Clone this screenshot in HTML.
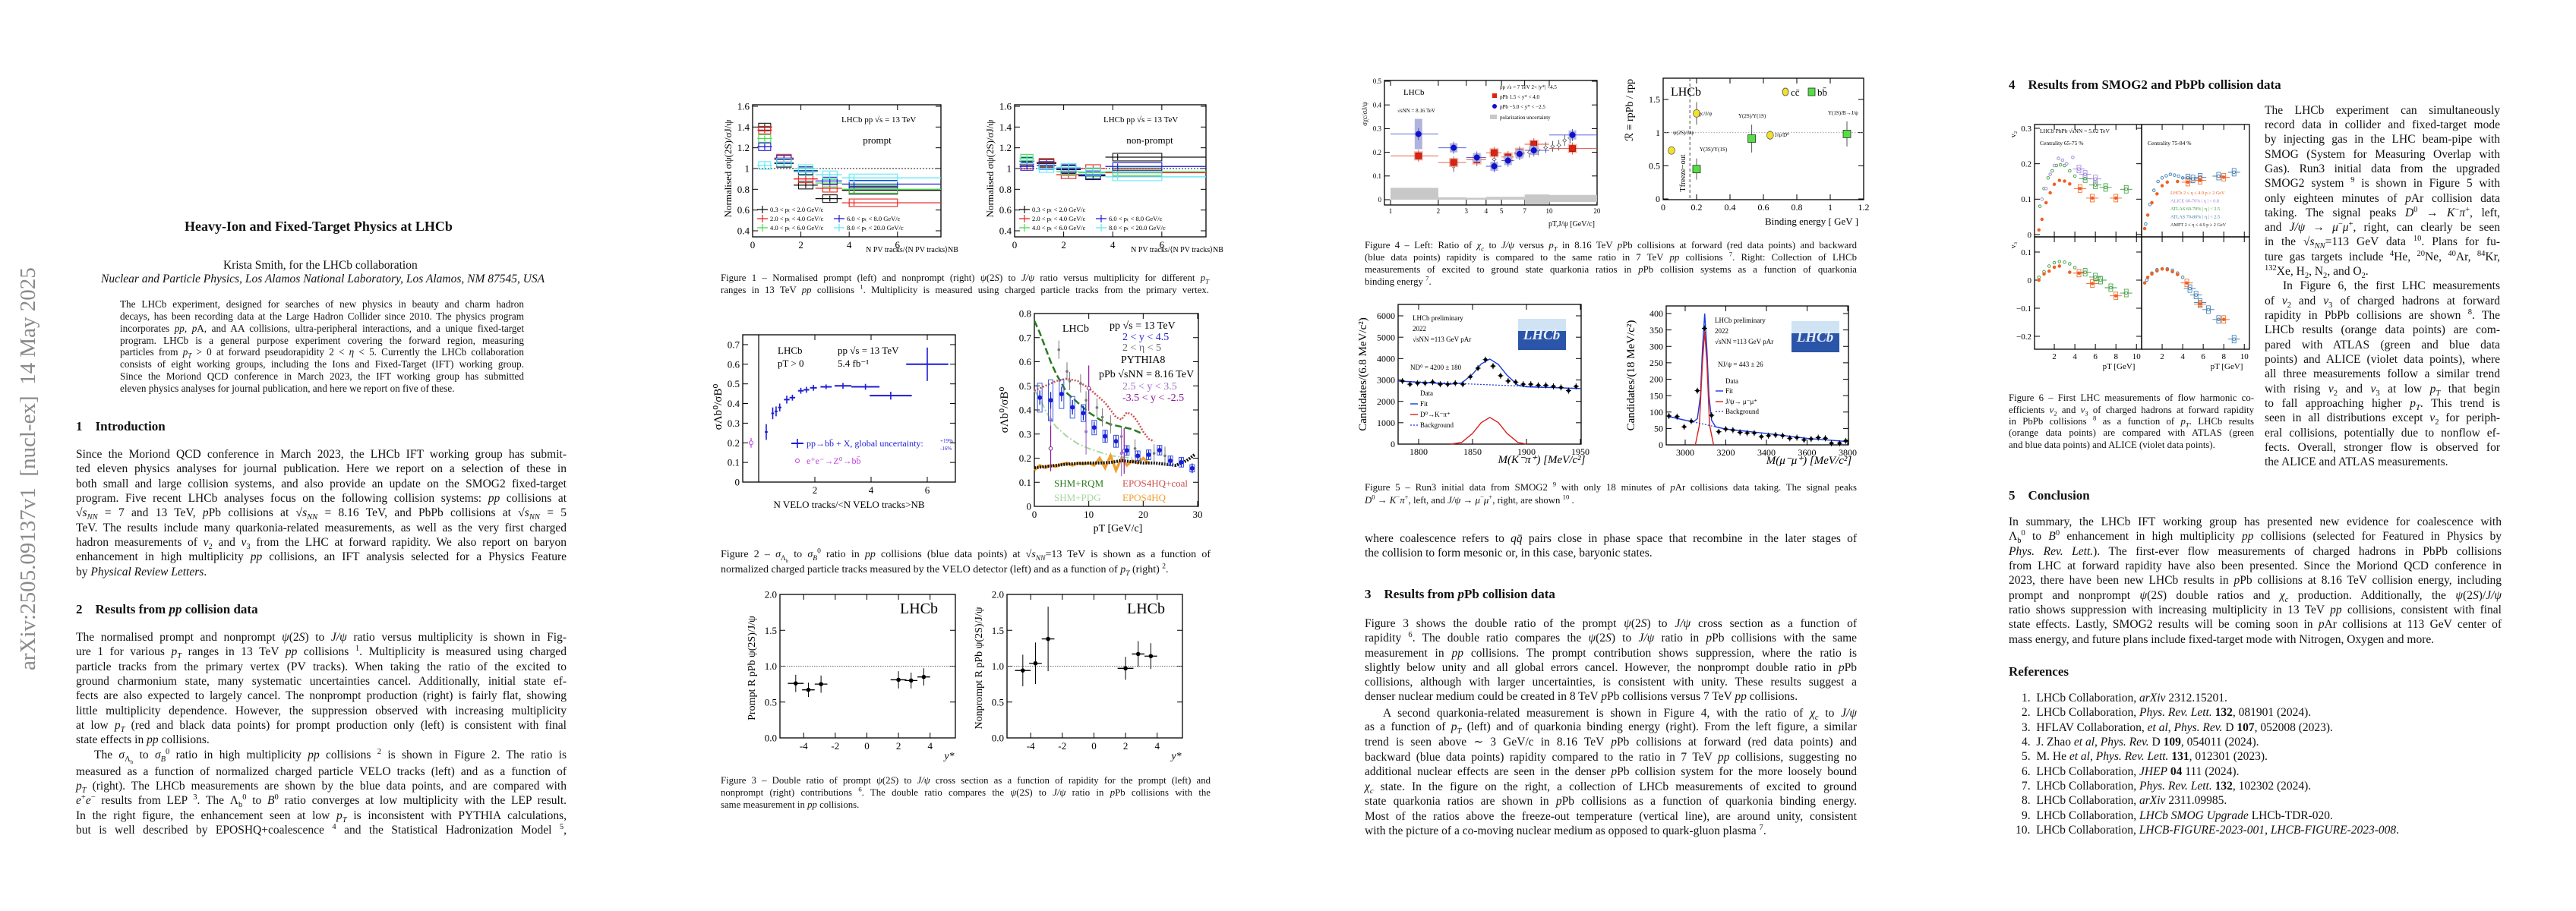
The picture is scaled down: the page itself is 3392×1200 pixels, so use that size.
<!DOCTYPE html>
<html><head><meta charset="utf-8">
<style>
html,body{margin:0;padding:0;background:#fff;}
body{width:3392px;height:1200px;position:relative;overflow:hidden;font-family:"Liberation Serif","DejaVu Serif",serif;color:#111;}
.t{position:absolute;white-space:nowrap;line-height:19px;height:19px;font-size:15.5px;}
.j{position:absolute;line-height:19px;height:19px;font-size:15.5px;text-align:justify;text-align-last:justify;white-space:normal;overflow:visible;}
.a{font-size:13.2px;line-height:16px;height:16px;}
.c{font-size:12.8px;line-height:16px;height:16px;}
.h{font-weight:bold;font-size:17px;}
sub,sup{font-size:68%;line-height:0;}
#figs{position:absolute;left:0;top:0;}
#stamp{position:absolute;left:-223px;top:607px;width:520px;height:32px;line-height:32px;font-size:29px;color:#8a8a8a;text-align:center;transform:rotate(-90deg);white-space:nowrap;}
</style></head>
<body>
<div id="stamp">arXiv:2505.09137v1&nbsp; [nucl-ex]&nbsp; 14 May 2025</div>

<!-- PAGE 1 -->
<div class="t" style="left:243px;top:289px;font-size:18px;font-weight:bold;">Heavy-Ion and Fixed-Target Physics at LHCb</div>
<div class="t" style="left:294px;top:340px;">Krista Smith, for the LHCb collaboration</div>
<div class="t" style="left:133px;top:358px;font-style:italic;">Nuclear and Particle Physics, Los Alamos National Laboratory, Los Alamos, NM 87545, USA</div>
<div>
<div class="j a" style="left:158px;top:393px;width:532px;">The LHCb experiment, designed for searches of new physics in beauty and charm hadron</div>
<div class="j a" style="left:158px;top:409px;width:532px;">decays, has been recording data at the Large Hadron Collider since 2010. The physics program</div>
<div class="j a" style="left:158px;top:425px;width:532px;">incorporates <i>pp</i>, <i>p</i>A, and AA collisions, ultra-peripheral interactions, and a unique fixed-target</div>
<div class="j a" style="left:158px;top:441px;width:532px;">program. LHCb is a general purpose experiment covering the forward region, measuring</div>
<div class="j a" style="left:158px;top:456px;width:532px;">particles from <i>p<sub>T</sub></i> &gt; 0 at forward pseudorapidity 2 &lt; <i>η</i> &lt; 5. Currently the LHCb collaboration</div>
<div class="j a" style="left:158px;top:472px;width:532px;">consists of eight working groups, including the Ions and Fixed-Target (IFT) working group.</div>
<div class="j a" style="left:158px;top:488px;width:532px;">Since the Moriond QCD conference in March 2023, the IFT working group has submitted</div>
<div class="t a" style="left:158px;top:504px;">eleven physics analyses for journal publication, and here we report on five of these.</div>
</div>
<div class="t h" style="left:100px;top:552px;">1&nbsp;&nbsp;&nbsp;&nbsp;Introduction</div>
<div>
<div class="j" style="left:100px;top:589px;width:646px;">Since the Moriond QCD conference in March 2023, the LHCb IFT working group has submit-</div>
<div class="j" style="left:100px;top:608px;width:646px;">ted eleven physics analyses for journal publication. Here we report on a selection of these in</div>
<div class="j" style="left:100px;top:628px;width:646px;">both small and large collision systems, and also provide an update on the SMOG2 fixed-target</div>
<div class="j" style="left:100px;top:647px;width:646px;">program. Five recent LHCb analyses focus on the following collision systems: <i>pp</i> collisions at</div>
<div class="j" style="left:100px;top:666px;width:646px;">√<i>s<sub>NN</sub></i> = 7 and 13 TeV, <i>p</i>Pb collisions at √<i>s<sub>NN</sub></i> = 8.16 TeV, and PbPb collisions at √<i>s<sub>NN</sub></i> = 5</div>
<div class="j" style="left:100px;top:686px;width:646px;">TeV. The results include many quarkonia-related measurements, as well as the very first charged</div>
<div class="j" style="left:100px;top:705px;width:646px;">hadron measurements of <i>v</i><sub>2</sub> and <i>v</i><sub>3</sub> from the LHC at forward rapidity. We also report on baryon</div>
<div class="j" style="left:100px;top:724px;width:646px;">enhancement in high multiplicity <i>pp</i> collisions, an IFT analysis selected for a Physics Feature</div>
<div class="t" style="left:100px;top:744px;">by <i>Physical Review Letters</i>.</div>
</div>
<div class="t h" style="left:100px;top:793px;">2&nbsp;&nbsp;&nbsp;&nbsp;Results from <i>pp</i> collision data</div>
<div>
<div class="j" style="left:100px;top:830px;width:646px;">The normalised prompt and nonprompt <i>ψ</i>(2<i>S</i>) to <i>J/ψ</i> ratio versus multiplicity is shown in Fig-</div>
<div class="j" style="left:100px;top:849px;width:646px;">ure 1 for various <i>p<sub>T</sub></i> ranges in 13 TeV <i>pp</i> collisions <sup>1</sup>. Multiplicity is measured using charged</div>
<div class="j" style="left:100px;top:869px;width:646px;">particle tracks from the primary vertex (PV tracks). When taking the ratio of the excited to</div>
<div class="j" style="left:100px;top:888px;width:646px;">ground charmonium state, many systematic uncertainties cancel. Additionally, initial state ef-</div>
<div class="j" style="left:100px;top:907px;width:646px;">fects are also expected to largely cancel. The nonprompt production (right) is fairly flat, showing</div>
<div class="j" style="left:100px;top:927px;width:646px;">little multiplicity dependence. However, the suppression observed with increasing multiplicity</div>
<div class="j" style="left:100px;top:946px;width:646px;">at low <i>p<sub>T</sub></i> (red and black data points) for prompt production only (left) is consistent with final</div>
<div class="t" style="left:100px;top:965px;">state effects in <i>pp</i> collisions.</div>
<div class="j" style="left:124px;top:985px;width:622px;">The <i>σ</i><sub>Λ<sub>b</sub></sub> to <i>σ<sub>B</sub></i><sup>0</sup> ratio in high multiplicity <i>pp</i> collisions <sup>2</sup> is shown in Figure 2. The ratio is</div>
<div class="j" style="left:100px;top:1007px;width:646px;">measured as a function of normalized charged particle VELO tracks (left) and as a function of</div>
<div class="j" style="left:100px;top:1026px;width:646px;"><i>p<sub>T</sub></i> (right). The LHCb measurements are shown by the blue data points, and are compared with</div>
<div class="j" style="left:100px;top:1045px;width:646px;"><i>e</i><sup>+</sup><i>e</i><sup>−</sup> results from LEP <sup>3</sup>. The Λ<sub>b</sub><sup>0</sup> to <i>B</i><sup>0</sup> ratio converges at low multiplicity with the LEP result.</div>
<div class="j" style="left:100px;top:1065px;width:646px;">In the right figure, the enhancement seen at low <i>p<sub>T</sub></i> is inconsistent with PYTHIA calculations,</div>
<div class="j" style="left:100px;top:1084px;width:646px;">but is well described by EPOSHQ+coalescence <sup>4</sup> and the Statistical Hadronization Model <sup>5</sup>,</div>
</div>

<!-- PAGE 2 captions -->
<div>
<div class="j c" style="left:949px;top:358px;width:643px;">Figure 1 – Normalised prompt (left) and nonprompt (right) <i>ψ</i>(2<i>S</i>) to <i>J/ψ</i> ratio versus multiplicity for different <i>p<sub>T</sub></i></div>
<div class="j c" style="left:949px;top:374px;width:643px;">ranges in 13 TeV <i>pp</i> collisions <sup>1</sup>. Multiplicity is measured using charged particle tracks from the primary vertex.</div>
</div>
<div>
<div class="j c" style="left:949px;top:722px;width:645px;font-size:14px;line-height:18px;height:18px;">Figure 2 – <i>σ</i><sub>Λ<sub>b</sub></sub> to <i>σ<sub>B</sub></i><sup>0</sup> ratio in <i>pp</i> collisions (blue data points) at √<i>s<sub>NN</sub></i>=13 TeV is shown as a function of</div>
<div class="t c" style="left:949px;top:742px;font-size:14px;line-height:18px;">normalized charged particle tracks measured by the VELO detector (left) and as a function of <i>p<sub>T</sub></i> (right) <sup>2</sup>.</div>
</div>
<div>
<div class="j c" style="left:949px;top:1020px;width:645px;">Figure 3 – Double ratio of prompt <i>ψ</i>(2<i>S</i>) to <i>J/ψ</i> cross section as a function of rapidity for the prompt (left) and</div>
<div class="j c" style="left:949px;top:1036px;width:645px;">nonprompt (right) contributions <sup>6</sup>. The double ratio compares the <i>ψ</i>(2<i>S</i>) to <i>J/ψ</i> ratio in <i>p</i>Pb collisions with the</div>
<div class="t c" style="left:949px;top:1052px;">same measurement in <i>pp</i> collisions.</div>
</div>

<!-- PAGE 3 -->
<div>
<div class="j c" style="left:1797px;top:315px;width:648px;">Figure 4 – Left: Ratio of <i>χ<sub>c</sub></i> to <i>J/ψ</i> versus <i>p<sub>T</sub></i> in 8.16 TeV <i>p</i>Pb collisions at forward (red data points) and backward</div>
<div class="j c" style="left:1797px;top:331px;width:648px;">(blue data points) rapidity is compared to the same ratio in 7 TeV <i>pp</i> collisions <sup>7</sup>. Right: Collection of LHCb</div>
<div class="j c" style="left:1797px;top:347px;width:648px;">measurements of excited to ground state quarkonia ratios in <i>p</i>Pb collision systems as a function of quarkonia</div>
<div class="t c" style="left:1797px;top:363px;">binding energy <sup>7</sup>.</div>
</div>
<div>
<div class="j c" style="left:1797px;top:634px;width:648px;">Figure 5 – Run3 initial data from SMOG2 <sup>9</sup> with only 18 minutes of <i>p</i>Ar collisions data taking. The signal peaks</div>
<div class="t c" style="left:1797px;top:651px;"><i>D</i><sup>0</sup> → <i>K</i><sup>−</sup><i>π</i><sup>+</sup>, left, and <i>J/ψ</i> → <i>μ</i><sup>−</sup><i>μ</i><sup>+</sup>, right, are shown <sup>10</sup> .</div>
</div>
<div>
<div class="j" style="left:1797px;top:700px;width:648px;">where coalescence refers to <i>qq̄</i> pairs close in phase space that recombine in the later stages of</div>
<div class="t" style="left:1797px;top:719px;">the collision to form mesonic or, in this case, baryonic states.</div>
</div>
<div class="t h" style="left:1797px;top:773px;">3&nbsp;&nbsp;&nbsp;&nbsp;Results from <i>p</i>Pb collision data</div>
<div>
<div class="j" style="left:1797px;top:812px;width:648px;">Figure 3 shows the double ratio of the prompt <i>ψ</i>(2<i>S</i>) to <i>J/ψ</i> cross section as a function of</div>
<div class="j" style="left:1797px;top:831px;width:648px;">rapidity <sup>6</sup>. The double ratio compares the <i>ψ</i>(2<i>S</i>) to <i>J/ψ</i> ratio in <i>p</i>Pb collisions with the same</div>
<div class="j" style="left:1797px;top:851px;width:648px;">measurement in <i>pp</i> collisions. The prompt contribution shows suppression, where the ratio is</div>
<div class="j" style="left:1797px;top:870px;width:648px;">slightly below unity and all global errors cancel. However, the nonprompt double ratio in <i>p</i>Pb</div>
<div class="j" style="left:1797px;top:889px;width:648px;">collisions, although with larger uncertainties, is consistent with unity. These results suggest a</div>
<div class="t" style="left:1797px;top:908px;">denser nuclear medium could be created in 8 TeV <i>p</i>Pb collisions versus 7 TeV <i>pp</i> collisions.</div>
<div class="j" style="left:1821px;top:930px;width:624px;">A second quarkonia-related measurement is shown in Figure 4, with the ratio of <i>χ<sub>c</sub></i> to <i>J/ψ</i></div>
<div class="j" style="left:1797px;top:948px;width:648px;">as a function of <i>p<sub>T</sub></i> (left) and of quarkonia binding energy (right). From the left figure, a similar</div>
<div class="j" style="left:1797px;top:968px;width:648px;">trend is seen above ∼ 3 GeV/c in 8.16 TeV <i>p</i>Pb collisions at forward (red data points) and</div>
<div class="j" style="left:1797px;top:988px;width:648px;">backward (blue data points) rapidity compared to the ratio in 7 TeV <i>pp</i> collisions, suggesting no</div>
<div class="j" style="left:1797px;top:1007px;width:648px;">additional nuclear effects are seen in the denser <i>p</i>Pb collision system for the more loosely bound</div>
<div class="j" style="left:1797px;top:1027px;width:648px;"><i>χ<sub>c</sub></i> state. In the figure on the right, a collection of LHCb measurements of excited to ground</div>
<div class="j" style="left:1797px;top:1046px;width:648px;">state quarkonia ratios are shown in <i>p</i>Pb collisions as a function of quarkonia binding energy.</div>
<div class="j" style="left:1797px;top:1066px;width:648px;">Most of the ratios above the freeze-out temperature (vertical line), are around unity, consistent</div>
<div class="t" style="left:1797px;top:1085px;">with the picture of a co-moving nuclear medium as opposed to quark-gluon plasma <sup>7</sup>.</div>
</div>

<!-- PAGE 4 -->
<div class="t h" style="left:2645px;top:102px;">4&nbsp;&nbsp;&nbsp;&nbsp;Results from SMOG2 and PbPb collision data</div>
<div>
<div class="j" style="left:2982px;top:136px;width:310px;">The LHCb experiment can simultaneously</div>
<div class="j" style="left:2982px;top:155px;width:310px;">record data in collider and fixed-target mode</div>
<div class="j" style="left:2982px;top:174px;width:310px;">by injecting gas in the LHC beam-pipe with</div>
<div class="j" style="left:2982px;top:194px;width:310px;">SMOG (System for Measuring Overlap with</div>
<div class="j" style="left:2982px;top:213px;width:310px;">Gas). Run3 initial data from the upgraded</div>
<div class="j" style="left:2982px;top:232px;width:310px;">SMOG2 system <sup>9</sup> is shown in Figure 5 with</div>
<div class="j" style="left:2982px;top:252px;width:310px;">only eighteen minutes of <i>p</i>Ar collision data</div>
<div class="j" style="left:2982px;top:271px;width:310px;">taking. The signal peaks <i>D</i><sup>0</sup> → <i>K</i><sup>−</sup><i>π</i><sup>+</sup>, left,</div>
<div class="j" style="left:2982px;top:290px;width:310px;">and <i>J/ψ</i> → <i>μ</i><sup>−</sup><i>μ</i><sup>+</sup>, right, can clearly be seen</div>
<div class="j" style="left:2982px;top:309px;width:310px;">in the √<i>s<sub>NN</sub></i>=113 GeV data <sup>10</sup>. Plans for fu-</div>
<div class="j" style="left:2982px;top:329px;width:310px;">ture gas targets include <sup>4</sup>He, <sup>20</sup>Ne, <sup>40</sup>Ar, <sup>84</sup>Kr,</div>
<div class="t" style="left:2982px;top:348px;"><sup>132</sup>Xe, H<sub>2</sub>, N<sub>2</sub>, and O<sub>2</sub>.</div>
<div class="j" style="left:3006px;top:367px;width:286px;">In Figure 6, the first LHC measurements</div>
<div class="j" style="left:2982px;top:387px;width:310px;">of <i>v</i><sub>2</sub> and <i>v</i><sub>3</sub> of charged hadrons at forward</div>
<div class="j" style="left:2982px;top:406px;width:310px;">rapidity in PbPb collisions are shown <sup>8</sup>. The</div>
<div class="j" style="left:2982px;top:425px;width:310px;">LHCb results (orange data points) are com-</div>
<div class="j" style="left:2982px;top:445px;width:310px;">pared with ATLAS (green and blue data</div>
<div class="j" style="left:2982px;top:464px;width:310px;">points) and ALICE (violet data points), where</div>
<div class="j" style="left:2982px;top:483px;width:310px;">all three measurements follow a similar trend</div>
<div class="j" style="left:2982px;top:503px;width:310px;">with rising <i>v</i><sub>2</sub> and <i>v</i><sub>3</sub> at low <i>p<sub>T</sub></i> that begin</div>
<div class="j" style="left:2982px;top:522px;width:310px;">to fall approaching higher <i>p<sub>T</sub></i>. This trend is</div>
<div class="j" style="left:2982px;top:541px;width:310px;">seen in all distributions except <i>v</i><sub>2</sub> for periph-</div>
<div class="j" style="left:2982px;top:561px;width:310px;">eral collisions, potentially due to nonflow ef-</div>
<div class="j" style="left:2982px;top:580px;width:310px;">fects. Overall, stronger flow is observed for</div>
<div class="t" style="left:2982px;top:599px;">the ALICE and ATLAS measurements.</div>
</div>
<div>
<div class="j c" style="left:2645px;top:516px;width:323px;">Figure 6 – First LHC measurements of flow harmonic co-</div>
<div class="j c" style="left:2645px;top:532px;width:323px;">efficients <i>v</i><sub>2</sub> and <i>v</i><sub>3</sub> of charged hadrons at forward rapidity</div>
<div class="j c" style="left:2645px;top:547px;width:323px;">in PbPb collisions <sup>8</sup> as a function of <i>p<sub>T</sub></i>. LHCb results</div>
<div class="j c" style="left:2645px;top:562px;width:323px;">(orange data points) are compared with ATLAS (green</div>
<div class="t c" style="left:2645px;top:578px;">and blue data points) and ALICE (violet data points).</div>
</div>
<div class="t h" style="left:2645px;top:643px;">5&nbsp;&nbsp;&nbsp;&nbsp;Conclusion</div>
<div>
<div class="j" style="left:2645px;top:678px;width:649px;">In summary, the LHCb IFT working group has presented new evidence for coalescence with</div>
<div class="j" style="left:2645px;top:697px;width:649px;">Λ<sub>b</sub><sup>0</sup> to <i>B</i><sup>0</sup> enhancement in high multiplicity <i>pp</i> collisions (selected for Featured in Physics by</div>
<div class="j" style="left:2645px;top:717px;width:649px;"><i>Phys. Rev. Lett.</i>). The first-ever flow measurements of charged hadrons in PbPb collisions</div>
<div class="j" style="left:2645px;top:736px;width:649px;">from LHC at forward rapidity have also been presented. Since the Moriond QCD conference in</div>
<div class="j" style="left:2645px;top:755px;width:649px;">2023, there have been new LHCb results in <i>p</i>Pb collisions at 8.16 TeV collision energy, including</div>
<div class="j" style="left:2645px;top:775px;width:649px;">prompt and nonprompt <i>ψ</i>(2<i>S</i>) double ratios and <i>χ<sub>c</sub></i> production. Additionally, the <i>ψ</i>(2<i>S</i>)/<i>J/ψ</i></div>
<div class="j" style="left:2645px;top:794px;width:649px;">ratio shows suppression with increasing multiplicity in 13 TeV <i>pp</i> collisions, consistent with final</div>
<div class="j" style="left:2645px;top:813px;width:649px;">state effects. Lastly, SMOG2 results will be coming soon in <i>p</i>Ar collisions at 113 GeV center of</div>
<div class="t" style="left:2645px;top:833px;">mass energy, and future plans include fixed-target mode with Nitrogen, Oxygen and more.</div>
</div>
<div class="t h" style="left:2645px;top:875px;">References</div>
<div>
<div class="t" style="left:2662px;top:910px;">1.&nbsp; LHCb Collaboration, <i>arXiv</i> 2312.15201.</div>
<div class="t" style="left:2662px;top:929px;">2.&nbsp; LHCb Collaboration, <i>Phys. Rev. Lett.</i> <b>132</b>, 081901 (2024).</div>
<div class="t" style="left:2662px;top:949px;">3.&nbsp; HFLAV Collaboration, <i>et al</i>, <i>Phys. Rev.</i> D <b>107</b>, 052008 (2023).</div>
<div class="t" style="left:2662px;top:968px;">4.&nbsp; J. Zhao <i>et al</i>, <i>Phys. Rev.</i> D <b>109</b>, 054011 (2024).</div>
<div class="t" style="left:2662px;top:987px;">5.&nbsp; M. He <i>et al</i>, <i>Phys. Rev. Lett.</i> <b>131</b>, 012301 (2023).</div>
<div class="t" style="left:2662px;top:1007px;">6.&nbsp; LHCb Collaboration, <i>JHEP</i> <b>04</b> 111 (2024).</div>
<div class="t" style="left:2662px;top:1026px;">7.&nbsp; LHCb Collaboration, <i>Phys. Rev. Lett.</i> <b>132</b>, 102302 (2024).</div>
<div class="t" style="left:2662px;top:1045px;">8.&nbsp; LHCb Collaboration, <i>arXiv</i> 2311.09985.</div>
<div class="t" style="left:2662px;top:1065px;">9.&nbsp; LHCb Collaboration, <i>LHCb SMOG Upgrade</i> LHCb-TDR-020.</div>
<div class="t" style="left:2654px;top:1084px;">10.&nbsp; LHCb Collaboration, <i>LHCB-FIGURE-2023-001</i>, <i>LHCB-FIGURE-2023-008</i>.</div>
</div>

<svg id="figs" width="3392" height="1200" viewBox="0 0 3392 1200" xmlns="http://www.w3.org/2000/svg" font-family="Liberation Serif, serif"></svg>

<script>
// ---------- DATA ----------
// Figure 1 (psi(2S)/J/psi vs multiplicity)
const f1Bins=[0.5,1.3,2.2,3.2,4.2];
const f1Lo=[0.2,0.9,1.7,2.6,3.7];
const f1Hi=[0.8,1.7,2.7,3.7,8.0];
const f1PromptBlack=[1.40,1.05,0.84,0.71,0.79];
const f1PromptRed=[1.37,1.10,0.90,0.81,0.67];
const f1PromptGreen=[1.29,1.09,0.97,0.86,0.80];
const f1PromptBlue=[1.21,1.09,0.98,0.88,0.85];
const f1PromptCyan=[1.03,1.06,1.00,0.94,0.91];
const f1NonBlack=[1.07,1.05,0.99,0.93,1.11];
const f1NonRed=[1.04,1.06,0.94,1.00,0.96];
const f1NonGreen=[1.10,1.03,0.97,0.96,0.97];
const f1NonBlue=[1.02,1.03,1.00,0.94,1.02];
const f1NonCyan=[1.08,1.00,1.01,0.97,0.92];
const f1XTicks=[0,2,4,6];
const f1YTicks=[0.4,0.6,0.8,1,1.2,1.4,1.6];
const f1YLabels=['0.4','0.6','0.8','1','1.2','1.4','1.6'];
const f1Legend=['0.3 < p\u209C < 2.0 GeV/c','2.0 < p\u209C < 4.0 GeV/c','4.0 < p\u209C < 6.0 GeV/c','6.0 < p\u209C < 8.0 GeV/c','8.0 < p\u209C < 20.0 GeV/c'];
// Figure 2 left (vs VELO tracks)
const f2MultX=[0.27,0.5,0.62,0.75,1.0,1.2,1.5,1.7,1.95,2.4,3.0,3.8,4.7,6.0];
const f2MultY=[0.255,0.35,0.36,0.38,0.42,0.43,0.465,0.47,0.48,0.485,0.49,0.485,0.44,0.60];
const f2MultXErr=[0.05,0.05,0.05,0.06,0.1,0.1,0.1,0.1,0.12,0.2,0.3,0.5,0.75,0.75];
const f2MultYErr=[0.04,0.03,0.025,0.02,0.02,0.015,0.015,0.015,0.015,0.012,0.015,0.015,0.02,0.085];
const f2LepX=[-0.27], f2LepY=[0.2], f2LepErr=[0.025];
const f2LXTicks=[2,4,6];
const f2LYTicks=[0,0.1,0.2,0.3,0.4,0.5,0.6,0.7];
// Figure 2 right (vs pT)
const f2PtX=[1,3,5,7,9,11,13,15,17,19,21,23,25,27,29];
const f2PtY=[0.451,0.44,0.466,0.411,0.387,0.327,0.291,0.27,0.232,0.21,0.214,0.233,0.189,0.183,0.158];
const f2PtErr=[0.03,0.035,0.03,0.03,0.03,0.025,0.025,0.025,0.02,0.02,0.02,0.02,0.02,0.02,0.02];
const f2PtSys=[0.06,0.085,0.06,0.045,0.035,0.03,0.025,0.025,0.02,0.02,0.02,0.02,0.02,0.02,0.015];
const f2EtaX=[4.5,6,6.5,8.5,9.5,11.5,12.5,14,16,18.5,22,24];
const f2EtaY=[0.65,0.56,0.52,0.51,0.44,0.41,0.37,0.34,0.29,0.24,0.22,0.21];
const f2FwdX=[3,9.5,16], f2FwdY=[0.36,0.31,0.22];
const f2BwdX=[3,10,16.5], f2BwdY=[0.24,0.49,0.23];
const shmRqmX=[0,1,2,3,4,5,6,8,10,12,14,16,18,20];
const shmRqmY=[0.77,0.72,0.66,0.60,0.55,0.51,0.47,0.43,0.39,0.36,0.34,0.33,0.32,0.30];
const shmPdgX=[0,1,2,3,4,6,8,10,12,14,16,18];
const shmPdgY=[0.48,0.45,0.40,0.36,0.33,0.29,0.26,0.24,0.225,0.21,0.205,0.2];
const eposCoalX=[0,2,4,6,8,10,12,13,14,15,16,17,18,19,20,21,22];
const eposCoalY=[0.48,0.50,0.52,0.53,0.52,0.49,0.45,0.43,0.40,0.37,0.36,0.39,0.38,0.35,0.31,0.28,0.27];
const pythiaX=[0,2,4,6,8,10,12,14,16,18,20,22,24,26,28,29.5];
const pythiaY=[0.16,0.165,0.17,0.175,0.178,0.18,0.18,0.182,0.19,0.185,0.18,0.18,0.175,0.17,0.19,0.215];
const eposX=[0,1,2,3,4,5,6,7,8,9,10,11,12,13,14,15,16,17,18,19,20,21];
const eposY=[0.15,0.17,0.16,0.17,0.165,0.175,0.18,0.17,0.18,0.175,0.18,0.17,0.20,0.16,0.21,0.15,0.20,0.17,0.19,0.18,0.20,0.18];
const f2RXTicks=[0,10,20,30];
const f2RYTicks=[0,0.1,0.2,0.3,0.4,0.5,0.6,0.7,0.8];
// Figure 3 (double ratios)
const f3X=[-4.5,-3.7,-2.9,2.0,2.8,3.6];
const f3XErr=[0.5,0.4,0.4,0.5,0.4,0.4];
const f3Prompt=[0.76,0.67,0.75,0.81,0.80,0.85];
const f3PromptErr=[0.12,0.10,0.12,0.12,0.11,0.12];
const f3Non=[0.94,1.04,1.38,0.97,1.17,1.14];
const f3NonErr=[0.22,0.29,0.45,0.16,0.18,0.18];
const f3XTicks=[-4,-2,0,2,4];
const f3YTicks=[0,0.5,1,1.5,2];
const f3YLabels=['0.0','0.5','1.0','1.5','2.0'];
// Figure 4 left (chi_c / J/psi)
const f4Lo=[1,2,3,4,5,6,7,10], f4Hi=[2,3,4,5,6,7,10,20];
const f4X=[1.5,2.5,3.5,4.5,5.5,6.5,8,14];
const f4Fwd=[0.185,0.157,0.168,0.198,0.18,0.20,0.234,0.216];
const f4Bwd=[0.277,0.219,0.178,0.141,0.165,0.193,0.208,0.273];
const f4ppX=[2.5,3.5,4.5,5.5,6.5,7.5,8.5,9.5,10.5,11.5,12.5,13.5];
const f4ppY=[0.14,0.165,0.17,0.18,0.19,0.2,0.21,0.22,0.225,0.23,0.25,0.26];
const f4PolLo=[1,2,3,4,7,10], f4PolHi=[2,3,4,7,10,20];
const f4PolMin=[0,0,0,0,-0.02,-0.01], f4PolMax=[0.05,0.01,0.008,0.012,0.022,0.02];
const f4XTicks=[1,2,3,4,5,7,10,20];
const f4YTicks=[0,0.1,0.2,0.3,0.4,0.5];
// Figure 4 right (binding energy)
const ccX=[0.05,0.2,0.64], ccY=[0.73,1.29,0.96], ccErr=[0.04,0.17,0.07];
const bbX=[0.2,0.53,1.1], bbY=[0.45,0.91,0.98], bbErr=[0.16,0.21,0.19];
const f4RXTicks=[0,0.2,0.4,0.6,0.8,1,1.2];
const f4RYTicks=[0,0.5,1,1.5];
// Figure 5 left (D0 mass)
const f5aM=[1785,1792,1799,1806,1813,1820,1827,1834,1841,1848,1855,1862,1869,1876,1883,1890,1897,1904,1911,1918,1925,1932,1939,1946];
const f5aN=[2950,2800,2850,2850,2900,2800,2800,2850,2800,3150,3550,3950,3650,3200,2950,2900,2800,2800,2750,2750,2700,2650,2500,2700];
const f5aFitM=[1781,1830,1840,1850,1858,1866,1874,1882,1892,1900,1950];
const f5aFitY=[2950,2810,2860,3270,3750,3980,3720,3220,2760,2680,2600];
const f5aSigM=[1830,1840,1850,1858,1866,1874,1882,1892,1900];
const f5aSigY=[0,80,500,1000,1250,1000,500,80,0];
const f5aBgM=[1781,1950], f5aBgY=[2950,2600];
const f5aXTicks=[1800,1850,1900,1950];
const f5aYTicks=[0,1000,2000,3000,4000,5000,6000];
// Figure 5 right (J/psi mass)
const f5bM=[2920,2960,2995,3030,3060,3095,3130,3165,3200,3235,3270,3305,3340,3375,3410,3445,3480,3515,3550,3585,3620,3655,3690,3720,3760,3790];
const f5bN=[88,86,55,72,165,355,90,40,48,45,38,36,36,25,28,30,28,20,22,15,18,22,20,5,5,12];
const f5bFitM=[2907,3000,3040,3060,3075,3085,3096,3107,3117,3130,3150,3200,3400,3600,3800];
const f5bFitY=[88,75,70,80,150,290,400,290,150,75,55,48,35,20,10];
const f5bSigM=[3050,3070,3085,3096,3107,3120,3140];
const f5bSigY=[0,60,250,345,250,60,0];
const f5bBgM=[2907,3150], f5bBgY=[88,55];
const f5bXTicks=[3000,3200,3400,3600,3800];
const f5bYTicks=[0,50,100,150,200,250,300,350,400];
// Figure 6 (v2, v3)
const v2aLhcbX=[0.5,0.8,1.2,1.6,2.0,2.5,3.0,3.5,4.5,5.7,8];
const v2aLhcbY=[0.013,0.043,0.09,0.118,0.142,0.153,0.151,0.143,0.13,0.103,0.103];
const v2aAliceX=[0.8,1.2,1.6,2.0,2.4,2.8,3.2,3.8,4.4,5.0,6.0];
const v2aAliceY=[0.10,0.13,0.17,0.195,0.215,0.21,0.20,0.218,0.185,0.17,0.157];
const v2aAtlasX=[0.6,1.0,1.4,1.8,2.2,2.6,3.0,3.5,4.0,5.0,6.0,7.0,9.0];
const v2aAtlasY=[0.08,0.13,0.16,0.18,0.195,0.197,0.195,0.18,0.165,0.158,0.14,0.133,0.128];
const v2bLhcbX=[0.3,0.6,1.0,1.5,2.0,2.5,3.5,4.5,5.7,8.0];
const v2bLhcbY=[0.017,0.055,0.09,0.115,0.138,0.148,0.15,0.148,0.153,0.162];
const v2bAtlasX=[0.4,0.8,1.2,1.6,2.0,2.4,2.8,3.2,3.6,4.0,4.5,5.0,5.7,7.5,9.0];
const v2bAtlasY=[0.03,0.085,0.125,0.15,0.16,0.166,0.17,0.168,0.165,0.16,0.16,0.157,0.162,0.165,0.176];
const v3aLhcbX=[0.5,1.0,1.5,2.0,2.5,3.5,4.4,5.7,8.0];
const v3aLhcbY=[0.0,0.022,0.032,0.046,0.05,0.028,0.025,-0.012,-0.056];
const v3aAtlasX=[0.5,1.0,1.5,2.0,2.5,3.0,3.5,4.0,5.0,6.0,6.5,7.5,9.0];
const v3aAtlasY=[0.01,0.03,0.05,0.062,0.066,0.064,0.058,0.045,0.028,0.011,0.0,-0.027,-0.046];
const v3bLhcbX=[0.3,0.6,1.0,1.5,2.0,2.5,3.0,3.5,4.4,5.7,8.0];
const v3bLhcbY=[-0.01,0.01,0.022,0.033,0.04,0.037,0.03,0.02,-0.01,-0.085,-0.14];
const v3bAtlasX=[0.5,1.0,1.5,2.0,2.5,3.0,3.5,4.0,4.7,5.3,5.7,6.5,7.5,9.0];
const v3bAtlasY=[0.0,0.025,0.037,0.04,0.04,0.035,0.025,0.01,-0.03,-0.053,-0.08,-0.105,-0.14,-0.21];
const f6XTicks=[2,4,6,8,10];
const f6V2Ticks=[0,0.1,0.2,0.3];
const f6V3Ticks=[-0.2,-0.1,0,0.1];

// ---------- HELPERS ----------
const NS='http://www.w3.org/2000/svg';
const root=document.getElementById('figs');
function mk(tag,name,parent){
  const e=document.createElementNS(NS,tag);
  
  
  (parent||root).appendChild(e);
  return e;
}
function set(e,o){for(const k in o)e.setAttribute(k,o[k]);return e;}
function sc(d0,d1,p0,p1){return v=>p0+(v-d0)*(p1-p0)/(d1-d0);}
function ln(g,name,x1,y1,x2,y2,c,w,dash){const e=mk('line',name,g);set(e,{x1:x1,y1:y1,x2:x2,y2:y2,stroke:c||'#000','stroke-width':w||1});if(dash)e.setAttribute('stroke-dasharray',dash);return e;}
function tx(g,name,x,y,s,fs,anc,col,extra){const e=mk('text',name,g);set(e,{x:x,y:y,'font-size':fs,'text-anchor':anc||'start',fill:col||'#000'});if(extra)set(e,extra);e.textContent=s;return e;}
function rc(g,name,x,y,w,h,fill,stroke,sw){const e=mk('rect',name,g);set(e,{x:x,y:y,width:Math.max(w,0.5),height:Math.max(h,0.5),fill:fill||'none',stroke:stroke||'none','stroke-width':sw||1});return e;}
function poly(g,name,X,Y,xs,ys,c,w,dash){const e=mk('polyline',name,g);let p='';for(let i=0;i<X.length;i++)p+=xs(X[i]).toFixed(1)+','+ys(Y[i]).toFixed(1)+' ';set(e,{points:p,fill:'none',stroke:c,'stroke-width':w});if(dash)e.setAttribute('stroke-dasharray',dash);return e;}
function frame(name,b,xs,ys,xt,xl,yt,yl,fs){
  const g=mk('g',name);
  rc(g,name+'-box',b.x0,b.y0,b.x1-b.x0,b.y1-b.y0,'none','#000',1.3);
  for(let i=0;i<xt.length;i++){const X=xs(xt[i]);
    ln(g,name+'-xtick',X,b.y1,X,b.y1-7,'#000',1);ln(g,name+'-xtick-top',X,b.y0,X,b.y0+7,'#000',1);
    if(xl)tx(g,name+'-xtick-label',X,b.y1+fs+2,xl[i],fs,'middle');}
  for(let i=0;i<yt.length;i++){const Y=ys(yt[i]);
    ln(g,name+'-ytick',b.x0,Y,b.x0+7,Y,'#000',1);ln(g,name+'-ytick-right',b.x1,Y,b.x1-7,Y,'#000',1);
    if(yl)tx(g,name+'-ytick-label',b.x0-4,Y+fs*0.35,yl[i],fs,'end');}
  return g;
}
function rot(g,name,x,y,s,fs){return tx(g,name,x,y,s,fs,'middle','#000',{transform:'rotate(-90 '+x+' '+y+')'});}
function lbl(a){return a.map(v=>String(v));}

// ---------- FIGURE 1 ----------
(function(){
  const cols=['#111','#e8231f','#4cd94c','#1c1cd6','#5fe6f5'];
  const panels=[
    {name:'fig1-prompt',b:{x0:991,y0:138,x1:1239,y1:312},data:[f1PromptBlack,f1PromptRed,f1PromptGreen,f1PromptBlue,f1PromptCyan],title:'prompt',tx:1155},
    {name:'fig1-nonprompt',b:{x0:1336,y0:138,x1:1588,y1:312},data:[f1NonBlack,f1NonRed,f1NonGreen,f1NonBlue,f1NonCyan],title:'non-prompt',tx:1514}];
  panels.forEach(p=>{
    const xs=sc(0,7.8,p.b.x0,p.b.x1), ys=sc(0.4,1.6,304,140);
    const g=frame(p.name,p.b,xs,ys,f1XTicks,lbl(f1XTicks),f1YTicks,f1YLabels,13);
    ln(g,'unity-line',p.b.x0,ys(1),p.b.x1,ys(1),'#444',1.3,'2,2');
    p.data.forEach((ser,s)=>{
      for(let i=0;i<f1Bins.length;i++){
        const Y=ys(ser[i]);
        ln(g,'data-bar',xs(f1Lo[i]),Y,xs(Math.min(f1Hi[i],7.8)),Y,cols[s],1.3);
        ln(g,'data-err',xs(f1Bins[i]),Y-4,xs(f1Bins[i]),Y+4,cols[s],1.2);
        const bw=i<4?Math.min(0.3,(f1Hi[i]-f1Lo[i])/2.4):1.0, cx=i<4?f1Bins[i]:5.0;
        rc(g,'syst-box',xs(cx-bw),Y-5,xs(cx+bw)-xs(cx-bw),10,'none',cols[s],1.1);
      }
    });
    tx(g,'fig1-lhcb-label',p.b.x0+117,161,'LHCb  pp  √s = 13 TeV',11);
    tx(g,'fig1-panel-title',p.tx,189,p.title,13,'middle');
    rot(g,'fig1-y-title',p.b.x0-28,222,'Normalised  σψ(2S)/σJ/ψ',13);
    tx(g,'fig1-x-title',p.b.x1-38,332,'N PV tracks/⟨N PV tracks⟩NB',10,'middle');
    const lx=[p.b.x0+14,p.b.x0+14,p.b.x0+14,p.b.x0+115,p.b.x0+115], ly=[279,291,303,291,303];
    for(let s=0;s<5;s++){
      ln(g,'legend-line',lx[s]-8,ly[s]-3,lx[s]+6,ly[s]-3,cols[s],1.3);
      ln(g,'legend-tick',lx[s]-1,ly[s]-8,lx[s]-1,ly[s]+2,cols[s],1.2);
      tx(g,'legend-entry',lx[s]+9,ly[s],f1Legend[s],8.5);
    }
  });
})();

// ---------- FIGURE 2 LEFT ----------
(function(){
  const b={x0:978,y0:441,x1:1258,y1:635};
  const xs=sc(0,7,999,1258), ys=sc(0,0.75,635,441);
  const g=frame('fig2-multiplicity',b,xs,ys,f2LXTicks,lbl(f2LXTicks),f2LYTicks,lbl(f2LYTicks),13);
  ln(g,'inner-y-axis',999,b.y0,999,b.y1,'#000',1.2);
  for(let i=0;i<f2MultX.length;i++){
    const X=xs(f2MultX[i]),Y=ys(f2MultY[i]);
    ln(g,'data-xerr',xs(f2MultX[i]-f2MultXErr[i]),Y,xs(f2MultX[i]+f2MultXErr[i]),Y,'#1c1cd6',2);
    ln(g,'data-yerr',X,ys(f2MultY[i]-f2MultYErr[i]),X,ys(f2MultY[i]+f2MultYErr[i]),'#1c1cd6',1.6);
  }
  for(let i=0;i<f2LepX.length;i++){
    const X=xs(f2LepX[i]),Y=ys(f2LepY[i]);
    ln(g,'lep-err',X,ys(f2LepY[i]-f2LepErr[i]),X,ys(f2LepY[i]+f2LepErr[i]),'#c040e0',1.2);
    const c=mk('circle','lep-point',g);set(c,{cx:X,cy:Y,r:2.5,fill:'#fff',stroke:'#c040e0'});
  }
  tx(g,'lhcb-label',1024,466,'LHCb',13);
  tx(g,'pt-label',1024,483,'pT > 0',13);
  tx(g,'energy-label',1103,466,'pp  √s = 13 TeV',13);
  tx(g,'lumi-label',1103,483,'5.4 fb⁻¹',13);
  ln(g,'legend-blue',1042,584,1058,584,'#1c1cd6',2);ln(g,'legend-blue-v',1050,578,1050,590,'#1c1cd6',1.6);
  tx(g,'legend-entry',1062,588,'pp→bb̄ + X, global uncertainty:',12,'start','#1c1cd6');
  tx(g,'legend-unc-up',1238,583,'+19%',7,'start','#1c1cd6');
  tx(g,'legend-unc-down',1238,593,'-16%',7,'start','#1c1cd6');
  const c=mk('circle','legend-lep-marker',g);set(c,{cx:1050,cy:607,r:2.5,fill:'#fff',stroke:'#c040e0'});
  tx(g,'legend-entry',1062,611,'e⁺e⁻→Z⁰→bb̄',12,'start','#c040e0');
  rot(g,'y-title',950,536,'σΛb⁰/σB⁰',15);
  tx(g,'x-title',1118,669,'N VELO tracks/<N VELO tracks>NB',13,'middle');
})();

// ---------- FIGURE 2 RIGHT ----------
(function(){
  const b={x0:1362,y0:413,x1:1578,y1:667};
  const xs=sc(0,30,1362,1577), ys=sc(0,0.8,667,413);
  const g=frame('fig2-pt',b,xs,ys,f2RXTicks,lbl(f2RXTicks),f2RYTicks,lbl(f2RYTicks),13);
  poly(g,'shm-rqm-curve',shmRqmX,shmRqmY,xs,ys,'#2a7a20',2.5,'9,4');
  poly(g,'shm-pdg-curve',shmPdgX,shmPdgY,xs,ys,'#a8d8a0',2,'9,3,2,3');
  poly(g,'epos-coal-curve',eposCoalX,eposCoalY,xs,ys,'#d05050',2.5,'2,2');
  poly(g,'epos4hq-curve',eposX,eposY,xs,ys,'#f0a030',3.5);
  poly(g,'pythia8-curve',pythiaX,pythiaY,xs,ys,'#111',4,'2,1.5');
  for(let i=0;i<f2EtaX.length;i++){const X=xs(f2EtaX[i]),Y=ys(f2EtaY[i]);
    ln(g,'eta-err',X,Y-12,X,Y+12,'#777',1);const c=mk('circle','eta-point',g);set(c,{cx:X,cy:Y,r:1.8,fill:'#777'});}
  for(let i=0;i<f2FwdX.length;i++){const X=xs(f2FwdX[i]),Y=ys(f2FwdY[i]);
    ln(g,'ppb-fwd-err',X,Y-30,X,Y+30,'#a070d0',1.2);const c=mk('circle','ppb-fwd-point',g);set(c,{cx:X,cy:Y,r:2,fill:'#a070d0'});}
  for(let i=0;i<f2BwdX.length;i++){const X=xs(f2BwdX[i]),Y=ys(f2BwdY[i]);
    ln(g,'ppb-bwd-err',X,Y-30,X,Y+30,'#8a1a9a',1.2);const c=mk('circle','ppb-bwd-point',g);set(c,{cx:X,cy:Y,r:2.3,fill:'#fff',stroke:'#8a1a9a'});}
  for(let i=0;i<f2PtX.length;i++){
    const X=xs(f2PtX[i]),Y=ys(f2PtY[i]);
    rc(g,'syst-box',X-3,ys(f2PtY[i]+f2PtSys[i]),6,ys(f2PtY[i]-f2PtSys[i])-ys(f2PtY[i]+f2PtSys[i]),'none','#3a5ae0',1);
    ln(g,'stat-err',X,ys(f2PtY[i]-f2PtErr[i]),X,ys(f2PtY[i]+f2PtErr[i]),'#1c1cd6',1.3);
    const c=mk('circle','data-point',g);set(c,{cx:X,cy:Y,r:3,fill:'#1c1cd6'});
  }
  tx(g,'lhcb-label',1399,437,'LHCb',14);
  tx(g,'pp-label',1461,433,'pp  √s = 13 TeV',14);
  tx(g,'legend-entry',1478,448,'2 < y < 4.5',14,'start','#1c1cd6');
  tx(g,'legend-entry',1478,462,'2 < η < 5',14,'start','#666');
  tx(g,'legend-entry',1476,478,'PYTHIA8',14);
  tx(g,'ppb-label',1447,497,'pPb  √sNN = 8.16 TeV',14);
  tx(g,'legend-entry',1478,513,'2.5 < y < 3.5',14,'start','#a070d0');
  tx(g,'legend-entry',1478,528,'-3.5 < y < -2.5',14,'start','#8a1a9a');
  tx(g,'legend-entry',1388,641,'SHM+RQM',13,'start','#2a7a20');
  tx(g,'legend-entry',1478,641,'EPOS4HQ+coal',13,'start','#d05050');
  tx(g,'legend-entry',1388,660,'SHM+PDG',13,'start','#a8d8a0');
  tx(g,'legend-entry',1478,660,'EPOS4HQ',13,'start','#f0a030');
  rot(g,'y-title',1327,540,'σΛb⁰/σB⁰',15);
  tx(g,'x-title',1472,700,'pT [GeV/c]',14,'middle');
})();

// ---------- FIGURE 3 ----------
(function(){
  const panels=[{name:'fig3-prompt',b:{x0:1027,y0:783,x1:1258,y1:972},v:f3Prompt,e:f3PromptErr,t:'Prompt  R pPb ψ(2S)/J/ψ'},
                {name:'fig3-nonprompt',b:{x0:1326,y0:783,x1:1557,y1:972},v:f3Non,e:f3NonErr,t:'Nonprompt  R pPb ψ(2S)/J/ψ'}];
  panels.forEach(p=>{
    const xs=sc(-5.5,5.6,p.b.x0,p.b.x1), ys=sc(0,2,972,783);
    const g=frame(p.name,p.b,xs,ys,f3XTicks,lbl(f3XTicks),f3YTicks,f3YLabels,13);
    ln(g,'unity-line',p.b.x0,ys(1),p.b.x1,ys(1),'#666',1,'1.5,1.5');
    for(let i=0;i<f3X.length;i++){
      const X=xs(f3X[i]),Y=ys(p.v[i]);
      ln(g,'data-xerr',xs(f3X[i]-f3XErr[i]),Y,xs(f3X[i]+f3XErr[i]),Y,'#000',1.3);
      ln(g,'data-yerr',X,ys(p.v[i]-p.e[i]),X,ys(p.v[i]+p.e[i]),'#000',1);
      const c=mk('circle','data-point',g);set(c,{cx:X,cy:Y,r:2.8,fill:'#000'});
    }
    tx(g,'lhcb-label',p.b.x1-23,808,'LHCb',20,'end');
    tx(g,'x-title',p.b.x1-8,1000,'y*',14,'middle',null,{'font-style':'italic'});
    rot(g,'y-title',p.b.x0-33,880,p.t,14);
  });
})();

// ---------- FIGURE 4 LEFT ----------
(function(){
  const b={x0:1823,y0:106,x1:2103,y1:270};
  const xs=v=>1831+209*Math.log10(v), ys=sc(0,0.5,263,107);
  const g=frame('fig4-chic-ratio',b,xs,ys,f4XTicks,lbl(f4XTicks),f4YTicks,lbl(f4YTicks),9);
  for(let i=0;i<f4PolLo.length;i++)
    rc(g,'polarization-band',xs(f4PolLo[i]),ys(f4PolMax[i]),xs(f4PolHi[i])-xs(f4PolLo[i]),ys(f4PolMin[i])-ys(f4PolMax[i]),'#c8c8c8');
  for(let i=0;i<f4ppX.length;i++){const X=xs(f4ppX[i]),Y=ys(f4ppY[i]);
    ln(g,'pp-err',X,Y-7,X,Y+7,'#333',0.8);ln(g,'pp-xerr',X-3,Y,X+3,Y,'#333',0.8);
    const c=mk('circle','pp-point',g);set(c,{cx:X,cy:Y,r:1.8,fill:'#fff',stroke:'#555','stroke-width':0.7});}
  for(let i=0;i<f4X.length;i++){
    const X=xs(f4X[i]),Y=ys(f4Fwd[i]),Yb=ys(f4Bwd[i]);
    rc(g,'fwd-syst',X-6,Y-6,12,12,'#f4b4a4');
    ln(g,'fwd-xerr',xs(f4Lo[i]),Y,xs(f4Hi[i]),Y,'#e05040',0.9);
    ln(g,'fwd-yerr',X,Y-8,X,Y+8,'#e05040',0.9);
    rc(g,'fwd-point',X-4,Y-4,8,8,'#dd2211','#800',0.6);
    rc(g,'bwd-syst',X-5,Yb-(i==0?20:6),10,i==0?40:12,'#b0b4dc');
    ln(g,'bwd-xerr',xs(f4Lo[i]),Yb,xs(f4Hi[i]),Yb,'#4050e0',0.9);
    ln(g,'bwd-yerr',X,Yb-8,X,Yb+8,'#4050e0',0.9);
    const c=mk('circle','bwd-point',g);set(c,{cx:X,cy:Yb,r:4,fill:'#1010c8'});
  }
  tx(g,'lhcb-label',1848,125,'LHCb',11);
  tx(g,'energy-label',1840,148,'√sNN = 8.16 TeV',7);
  tx(g,'legend-entry',1975,117,'pp √s = 7 TeV 2< |y*| <4.5',7);
  rc(g,'legend-red',1965,123,6,6,'#dd2211');tx(g,'legend-entry',1975,130,'pPb    1.5 < y* < 4.0',7);
  const c=mk('circle','legend-blue',g);set(c,{cx:1968,cy:140,r:3,fill:'#1010c8'});
  tx(g,'legend-entry',1975,143,'pPb  −5.0 < y* < −2.5',7);
  rc(g,'legend-gray',1962,151,9,6,'#c8c8c8');tx(g,'legend-entry',1975,157,'polarization uncertainty',7);
  tx(g,'x-title',2100,298,'pT,J/ψ [GeV/c]',10,'end');
  rot(g,'y-title',1800,150,'σχc/σJ/ψ',9);
})();

// ---------- FIGURE 4 RIGHT ----------
(function(){
  const b={x0:2190,y0:103,x1:2454,y1:263};
  const xs=sc(0,1.2,2190,2454), ys=sc(0,1.5,262,131);
  const g=frame('fig4-binding',b,xs,ys,f4RXTicks,lbl(f4RXTicks),f4RYTicks,lbl(f4RYTicks),12);
  ln(g,'unity-line',b.x0,ys(1),b.x1,ys(1),'#999',0.8,'1.5,2');
  ln(g,'freezeout-line',xs(0.16),b.y0,xs(0.16),b.y1,'#555',1.1,'4,3');
  rot(g,'freezeout-label',xs(0.16)-6,228,'Tfreeze−out',10);
  for(let i=0;i<ccX.length;i++){const X=xs(ccX[i]),Y=ys(ccY[i]);
    ln(g,'cc-err',X,ys(ccY[i]-ccErr[i]),X,ys(ccY[i]+ccErr[i]),'#555',1);
    const c=mk('ellipse','cc-point',g);set(c,{cx:X,cy:Y,rx:4.5,ry:5,fill:'#f2e02a',stroke:'#665',"stroke-width":0.8});}
  for(let i=0;i<bbX.length;i++){const X=xs(bbX[i]),Y=ys(bbY[i]);
    ln(g,'bb-err',X,ys(bbY[i]-bbErr[i]),X,ys(bbY[i]+bbErr[i]),'#555',1);
    rc(g,'bb-point',X-5,Y-5,10,10,'#55dd44','#333',0.8);}
  tx(g,'lhcb-label',2200,126,'LHCb',16);
  const c=mk('ellipse','legend-cc',g);set(c,{cx:2351,cy:121,rx:4,ry:5,fill:'#f2e02a',stroke:'#665'});
  tx(g,'legend-entry',2358,126,'cc̄',13);
  rc(g,'legend-bb',2381,116,9,10,'#55dd44','#333',0.8);
  tx(g,'legend-entry',2393,126,'bb̄',13);
  tx(g,'ratio-label',2203,177,'ψ(2S)/J/ψ',7);
  tx(g,'ratio-label',2237,152,'χc/J/ψ',7);
  tx(g,'ratio-label',2289,155,'Υ(2S)/Υ(1S)',7);
  tx(g,'ratio-label',2238,199,'Υ(3S)/Υ(1S)',7);
  tx(g,'ratio-label',2337,180,'J/ψ/D⁰',7);
  tx(g,'ratio-label',2407,151,'Υ(1S)/B→J/ψ',7);
  tx(g,'x-title',2447,296,'Binding energy [ GeV ]',13,'end');
  rot(g,'y-title',2150,145,'ℛ ≡ rpPb / rpp',14);
})();

// ---------- FIGURE 5 ----------
(function(){
  function massPanel(name,b,xs,ys,M,N,err,fitM,fitY,sigM,sigY,bgM,bgY,xt,yt,texts,xtitle,ytitle,logo){
    const g=frame(name,b,xs,ys,xt,lbl(xt),yt,lbl(yt),12);
    poly(g,'fit-curve',fitM,fitY,xs,ys,'#1a3ae0',1.4);
    poly(g,'signal-curve',sigM,sigY,xs,ys,'#d82020',1.4);
    poly(g,'background-curve',bgM,bgY,xs,ys,'#1a3ae0',1.2,'2,2');
    for(let i=0;i<M.length;i++){const X=xs(M[i]),Y=ys(N[i]);
      ln(g,'data-xerr',X-3.5,Y,X+3.5,Y,'#000',1);ln(g,'data-yerr',X,Y-err,X,Y+err,'#000',1);
      const c=mk('circle','data-point',g);set(c,{cx:X,cy:Y,r:2.3,fill:'#000'});}
    texts.forEach(t=>tx(g,'annotation',t[0],t[1],t[2],t[3]));
    rc(g,'lhcb-logo',logo[0],logo[1],63,41,'#2b55a8');
    rc(g,'lhcb-logo-top',logo[0],logo[1],63,16,'#cfe3f5');
    tx(g,'lhcb-logo-text',logo[0]+31,logo[1]+27,'LHCb',19,'middle','#e8eef8',{'font-style':'italic','font-weight':'bold'});
    tx(g,'x-title',b.x1-52,b.y1+25,xtitle,15,'middle',null,{'font-style':'italic'});
    rot(g,'y-title',b.x0-42,(b.y0+b.y1)/2,ytitle,15);
    return g;
  }
  const b1={x0:1841,y0:401,x1:2082,y1:585};
  const g1=massPanel('fig5-d0-mass',b1,sc(1800,1950,1868,2081),sc(0,6000,585,416),f5aM,f5aN,4,f5aFitM,f5aFitY,f5aSigM,f5aSigY,f5aBgM,f5aBgY,f5aXTicks,f5aYTicks,
    [[1860,422,'LHCb preliminary',9],[1860,436,'2022',9],[1860,450,'√sNN =113 GeV pAr',9],[1857,487,'ND⁰ = 4200 ± 180',9],[1870,521,'Data',9],[1870,535,'Fit',9],[1870,549,'D⁰→K⁻π⁺',9],[1870,563,'Background',9]],
    'M(K⁻π⁺) [MeV/c²]','Candidates/(6.8 MeV/c²)',[1999,420]);
  ln(g1,'legend-fit',1857,532,1867,532,'#1a3ae0',1.4);ln(g1,'legend-sig',1857,546,1867,546,'#d82020',1.4);ln(g1,'legend-bg',1857,560,1867,560,'#1a3ae0',1.2,'2,2');
  const b2={x0:2194,y0:403,x1:2434,y1:586};
  const g2=massPanel('fig5-jpsi-mass',b2,sc(3000,3800,2219,2433),sc(0,400,586,413),f5bM,f5bN,4,f5bFitM,f5bFitY,f5bSigM,f5bSigY,f5bBgM,f5bBgY,f5bXTicks,f5bYTicks,
    [[2258,425,'LHCb preliminary',9],[2258,439,'2022',9],[2258,453,'√sNN =113 GeV pAr',9],[2262,483,'NJ/ψ = 443 ± 26',9],[2272,505,'Data',9],[2272,518,'Fit',9],[2272,532,'J/ψ→ μ⁻μ⁺',9],[2272,545,'Background',9]],
    'M(μ⁻μ⁺) [MeV/c²]','Candidates/(18 MeV/c²)',[2359,423]);
  ln(g2,'legend-fit',2259,515,2269,515,'#1a3ae0',1.4);ln(g2,'legend-sig',2259,529,2269,529,'#d82020',1.4);ln(g2,'legend-bg',2259,542,2269,542,'#1a3ae0',1.2,'2,2');
})();

// ---------- FIGURE 6 ----------
(function(){
  const xsL=sc(0,10.5,2678,2820), xsR=sc(0,10.5,2820,2962);
  const ysV2=sc(0,0.3,309,169), ysV3=sc(0,0.1,369,332);
  const panels=[
    {name:'fig6-v2-central',b:{x0:2679,y0:164,x1:2820,y1:312},xs:xsL,ys:ysV2,yt:f6V2Ticks,ser:[[v2aAtlasX,v2aAtlasY,'#3a9a3a'],[v2aAliceX,v2aAliceY,'#a080e0'],[v2aLhcbX,v2aLhcbY,'#f06020']],xl:false},
    {name:'fig6-v2-peripheral',b:{x0:2820,y0:164,x1:2962,y1:312},xs:xsR,ys:ysV2,yt:[],ser:[[v2bAtlasX,v2bAtlasY,'#3a7ab0'],[v2bLhcbX,v2bLhcbY,'#f06020']],xl:false},
    {name:'fig6-v3-central',b:{x0:2679,y0:312,x1:2820,y1:460},xs:xsL,ys:ysV3,yt:f6V3Ticks,ser:[[v3aAtlasX,v3aAtlasY,'#3a9a3a'],[v3aLhcbX,v3aLhcbY,'#f06020']],xl:true},
    {name:'fig6-v3-peripheral',b:{x0:2820,y0:312,x1:2962,y1:460},xs:xsR,ys:ysV3,yt:[],ser:[[v3bAtlasX,v3bAtlasY,'#3a7ab0'],[v3bLhcbX,v3bLhcbY,'#f06020']],xl:true}];
  panels.forEach((p,k)=>{
    const g=frame(p.name,p.b,p.xs,p.ys,f6XTicks,p.xl?lbl(f6XTicks):null,p.yt,p.yt.length?p.yt.map(v=>v<0?'−'+Math.abs(v):String(v)):null,11);
    p.ser.forEach(s=>{
      for(let i=0;i<s[0].length;i++){const X=p.xs(s[0][i]),Y=p.ys(s[1][i]);
        if(s[0][i]>4){ln(g,'data-xerr',X-8,Y,X+8,Y,s[2],0.9);rc(g,'syst-box',X-2.5,Y-5,5,10,'none',s[2],0.8);}
        const c=mk('circle','data-point',g);set(c,{cx:X,cy:Y,r:1.8,fill:s[2]==='#f06020'?s[2]:'#fff',stroke:s[2],'stroke-width':0.9});}
    });
  });
  const g=mk('g','fig6-annotations');
  tx(g,'collision-label',2686,175,'LHCb PbPb √sNN = 5.02 TeV',7.5);
  tx(g,'centrality-label',2686,191,'Centrality 65-75 %',7.5);
  tx(g,'centrality-label',2828,191,'Centrality 75-84 %',7.5);
  const leg=[['LHCb 2 ≤ η ≤ 4.9 p ≥ 2 GeV','#f06020'],['ALICE 60-70% | η | < 0.8','#a080e0'],['ATLAS 60-70% | η | < 2.5','#3a9a3a'],['ATLAS 70-80% | η | < 2.5','#3a7ab0'],['AMPT 2 ≤ η ≤ 4.9 p ≥ 2 GeV','#222']];
  for(let i=0;i<leg.length;i++)tx(g,'legend-entry',2858,256+i*10.5,leg[i][0],6.2,'start',leg[i][1]);
  tx(g,'v2-label',2654,177,'v₂',10,'middle',null,{transform:'rotate(-90 2654 177)'});
  tx(g,'v3-label',2654,323,'v₃',10,'middle',null,{transform:'rotate(-90 2654 323)'});
  tx(g,'x-title',2790,486,'pT [GeV]',11,'middle');
  tx(g,'x-title',2932,486,'pT [GeV]',11,'middle');
})();

// shrink any justified line that wrapped
document.querySelectorAll('.j').forEach(e=>{
  let f=parseFloat(getComputedStyle(e).fontSize), lh=parseFloat(getComputedStyle(e).lineHeight), n=0;
  while(e.scrollHeight>lh*1.4 && n<30){f-=0.2;e.style.fontSize=f+'px';n++;}
});
</script>
</body></html>
